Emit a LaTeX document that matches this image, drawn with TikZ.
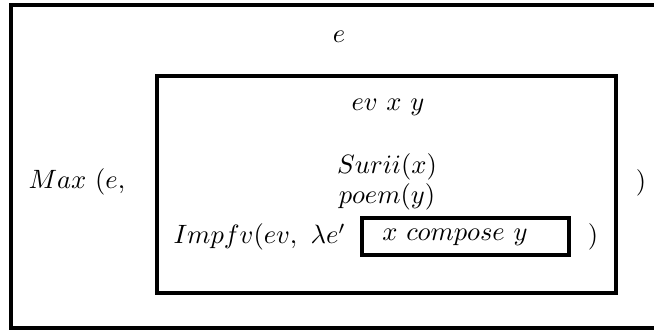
\documentclass[tikz,border=0pt]{standalone}
\begin{document}
\begin{tikzpicture}[x=0.377pt,y=-0.377pt,
  boxline/.style={line width=1.15pt},
  lbl/.style={inner sep=0pt,font=\normalsize}]
\useasboundingbox (0,0) rectangle (654,331);
% outer box (right side lies outside the picture)
\draw[boxline] (654,5) -- (11,5) -- (11,328) -- (654,328);
% inner box
\draw[boxline] (157,76) rectangle (616,293);
% small box
\draw[boxline] (362,218) rectangle (569,255);
% texts
\node[lbl] (e) at (339,37) {$e$};
\node[lbl] (evxy) at (388,107) {$ev\ x\ y$};
\node[lbl] (surii) at (387,167) {$Surii(x)$};
\node[lbl] (poem) at (387,197) {$poem(y)$};
\node[lbl,anchor=west] (impfv) at (173,237) {$Impfv(ev,\ \lambda e'$};
\node[lbl] (comp) at (455,237) {$x\ compose\ y$};
\node[lbl] (rp1) at (593,237) {$)$};
\node[lbl,anchor=west] (max) at (28,182) {$Max\ (e,$};
\node[lbl] (rp2) at (641,183) {$)$};
\end{tikzpicture}
\end{document}
